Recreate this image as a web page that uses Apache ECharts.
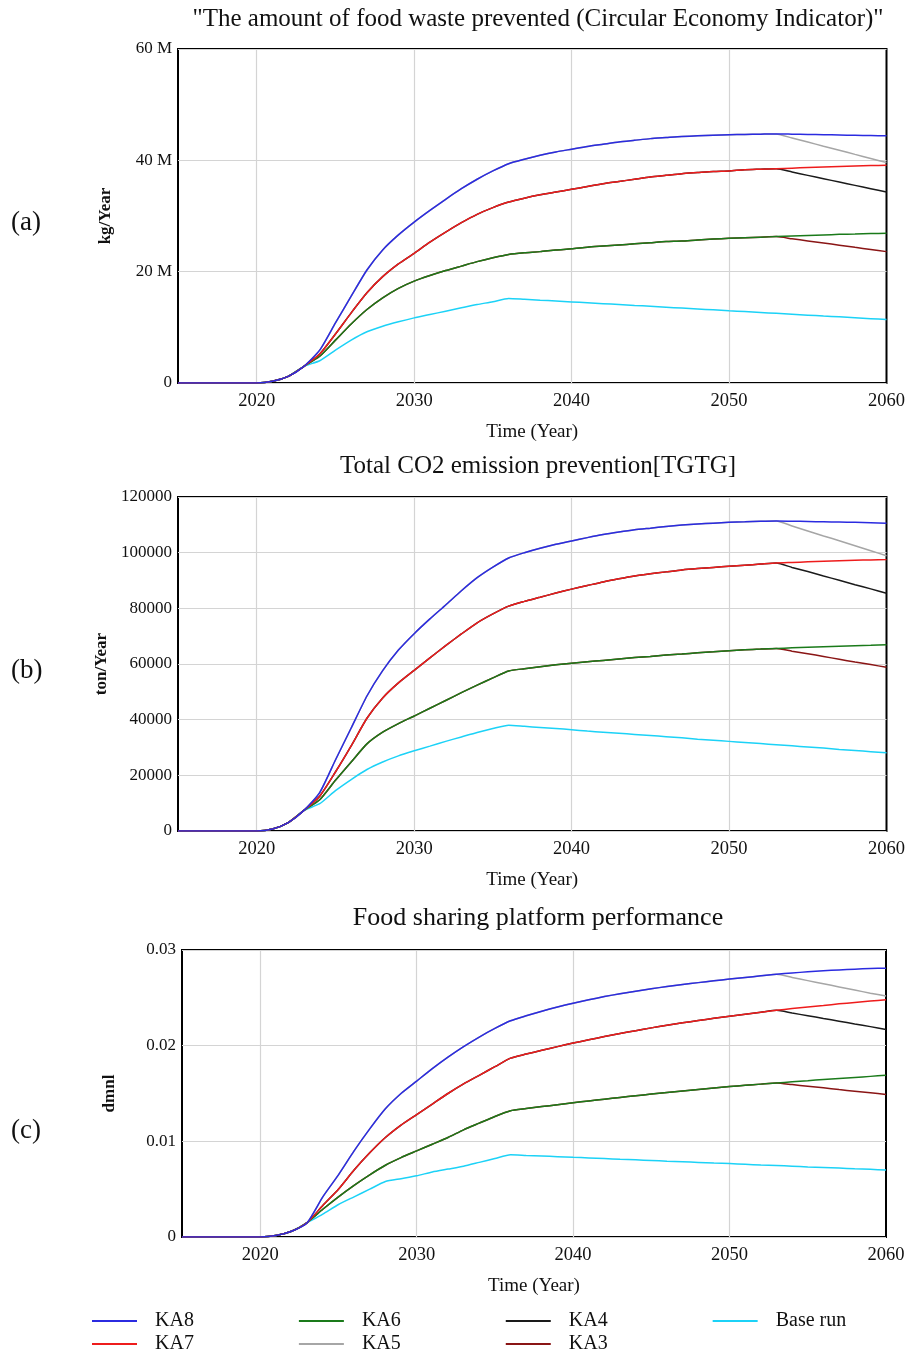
<!DOCTYPE html>
<html>
<head>
<meta charset="utf-8">
<script src="https://cdn.jsdelivr.net/npm/echarts@6/dist/echarts.min.js"></script>
<style>
html,body{margin:0;padding:0;background:#fff;}
#chart{width:908px;height:1356px;}
</style>
</head>
<body>
<div id="chart"></div>
<script>
// ---- categories (years) ----
const years = [2015,2016,2017,2018,2019,2020,2021,2022,2023,2024,2025,2026,2027,2028,2029,2030,
  2031,2032,2033,2034,2035,2036,2037,2038,2039,2040,2041,2042,2043,2044,2045,2046,2047,2048,2049,2050,
  2051,2052,2053,2054,2055,2056,2057,2058,2059,2060];

// ---- (a) food waste prevented, in millions kg/Year ----
const ka8A = [0,0,0,0,0,0,0.3,1.2,3.0,5.9,10.8,15.6,20.3,23.9,26.6,28.9,31.0,33.0,34.9,36.6,38.1,39.4,
  40.2,40.9,41.5,42.0,42.5,42.9,43.3,43.6,43.9,44.1,44.3,44.4,44.5,44.6,44.65,44.7,44.75,44.7,44.65,44.6,44.55,44.5,44.45,44.4];
const ka7A = [0,0,0,0,0,0,0.3,1.2,3.0,5.2,8.8,12.6,16.2,19.1,21.4,23.3,25.3,27.1,28.8,30.3,31.5,32.5,
  33.2,33.8,34.3,34.8,35.3,35.8,36.2,36.6,37.0,37.3,37.6,37.8,38.0,38.1,38.3,38.4,38.5,38.6,38.7,38.8,38.9,39.0,39.05,39.1];
const ka6A = [0,0,0,0,0,0,0.3,1.2,3.0,4.8,7.7,10.6,13.2,15.3,17.0,18.3,19.3,20.2,21.0,21.8,22.5,23.1,
  23.4,23.6,23.9,24.1,24.4,24.6,24.8,25.0,25.2,25.4,25.5,25.7,25.85,26.0,26.1,26.2,26.3,26.4,26.5,26.6,26.7,26.75,26.85,26.9];
const baseA = [0,0,0,0,0,0,0.3,1.2,3.0,4.0,5.9,7.7,9.2,10.2,11.0,11.7,12.3,12.9,13.5,14.1,14.6,15.2,
  15.04,14.88,14.73,14.57,14.41,14.25,14.09,13.93,13.78,13.62,13.46,13.3,13.14,12.98,12.83,12.67,12.51,12.35,12.19,12.03,11.88,11.72,11.56,11.4];
const ka5TailA = [44.01,43.28,42.54,41.81,41.07,40.34,39.6];   // 2054-2060
const ka4TailA = [37.9,37.3,36.7,36.1,35.5,34.9,34.3];
const ka3TailA = [25.91,25.53,25.14,24.76,24.37,23.99,23.6];

// ---- (b) CO2 emission prevention, ton/Year ----
const ka8B = [0,0,0,0,0,0,700,3000,7400,13800,25500,37000,48500,57600,65000,70900,76200,81200,86300,91000,94800,98100,
  100000,101600,103000,104200,105400,106500,107400,108200,108800,109400,109900,110300,110600,110900,111100,111300,111400,
  111300,111200,111100,111000,110900,110750,110600];
const ka7B = [0,0,0,0,0,0,700,3000,7400,12500,21200,30600,40500,47800,53200,57700,62200,66600,70800,74800,78000,80800,
  82500,84000,85500,86900,88200,89500,90600,91600,92400,93100,93800,94300,94700,95100,95500,95900,96300,
  96500,96700,96900,97100,97250,97400,97500];
const ka6B = [0,0,0,0,0,0,700,3000,7400,11200,18200,24800,31300,35500,38600,41300,44100,46900,49700,52400,55000,57500,
  58300,59000,59700,60300,60800,61300,61800,62300,62700,63200,63600,64000,64400,64800,65100,65350,65600,
  65800,66000,66200,66400,66550,66700,66900];
const baseB = [0,0,0,0,0,0,700,3000,7400,9800,14500,18500,22100,24800,27000,28800,30500,32200,33800,35400,36800,38000,
  37600,37200,36800,36400,35900,35500,35100,34700,34300,33900,33500,33000,32600,32200,31800,31400,31000,
  30600,30200,29800,29300,28900,28500,28100];
const ka5TailB = [109600,107800,106000,104300,102500,100700,98900];
const ka4TailB = [94700,93200,91600,90100,88500,87000,85400];
const ka3TailB = [64600,63700,62700,61700,60700,59800,58800];

// ---- (c) Food sharing platform performance, dmnl ----
const ka8C = [0,0,0,0,0,0,0.00015,0.0006,0.0015,0.0042,0.0065,0.0090,0.0113,0.0134,0.0150,0.0163,0.0176,0.0188,0.0199,0.0209,0.0218,0.0226,
  0.02312,0.0236,0.02404,0.02444,0.0248,0.02513,0.02543,0.0257,0.02595,0.02618,0.02639,0.02659,0.02678,0.02696,0.02713,0.0273,0.02746,
  0.0276,0.02772,0.02783,0.02792,0.028,0.02806,0.0281];
const ka7C = [0,0,0,0,0,0,0.00015,0.0006,0.0015,0.0033,0.0050,0.0070,0.0088,0.0104,0.0117,0.0128,0.0139,0.0150,0.0160,0.0169,0.0178,0.0187,
  0.01912,0.01952,0.0199,0.02027,0.02062,0.02095,0.02127,0.02157,0.02186,0.02213,0.02239,0.02263,0.02286,0.02308,0.02329,0.0235,0.0237,
  0.02388,0.02405,0.0242,0.02437,0.02452,0.02466,0.0248];
const ka6C = [0,0,0,0,0,0,0.00015,0.0006,0.0015,0.0029,0.0042,0.0054,0.0065,0.0075,0.0083,0.0090,0.0097,0.0104,0.0112,0.0119,0.0126,0.0132,
  0.01342,0.01363,0.01383,0.01403,0.01422,0.01441,0.01459,0.01477,0.01494,0.01511,0.01527,0.01543,0.01558,0.01573,0.01586,0.01598,0.0161,
  0.01622,0.01634,0.01646,0.01657,0.01668,0.01679,0.0169];
const baseC = [0,0,0,0,0,0,0.00015,0.0006,0.0015,0.0024,0.0034,0.0042,0.0050,0.0058,0.0061,0.0064,0.0068,0.0071,0.0074,0.0078,0.0082,0.0086,
  0.00853,0.00847,0.0084,0.00833,0.00827,0.0082,0.00813,0.00807,0.008,0.00793,0.00787,0.0078,0.00773,0.00767,0.0076,0.00753,0.00747,
  0.0074,0.00733,0.00727,0.0072,0.00713,0.00707,0.007];
const ka5TailC = [0.02713,0.0268,0.02647,0.02614,0.02581,0.02549,0.0252];
const ka4TailC = [0.02341,0.02313,0.02284,0.02256,0.02227,0.02199,0.0217];
const ka3TailC = [0.01593,0.01576,0.01559,0.01541,0.01524,0.01507,0.0149];

// ---- text ----
const titles = ['"The amount of food waste prevented (Circular Economy Indicator)"',
  'Total CO2 emission prevention[TGTG]', 'Food sharing platform performance'];
const yNames = ['kg/Year', 'ton/Year', 'dmnl'];
const xName = 'Time (Year)';
const panelLabels = ['(a)', '(b)', '(c)'];
const legendRow1 = ['KA8','KA6','KA4','Base run'];
const legendRow2 = ['KA7','KA5','KA3'];
const colors = {'KA8':'#2b2be0','KA7':'#ee1c1c','KA6':'#1a7a1a','KA5':'#a6a6a6','KA4':'#1a1a1a','KA3':'#8a1515','Base run':'#1cd2f7'};

// branch runs share the parent run up to 2053 (index 38)
function branch(parent, tail){ return parent.slice(0, 39).concat(tail); }

const panels = [
  {KA8:ka8A, KA7:ka7A, KA6:ka6A, 'Base run':baseA, KA5:branch(ka8A,ka5TailA), KA4:branch(ka7A,ka4TailA), KA3:branch(ka6A,ka3TailA)},
  {KA8:ka8B, KA7:ka7B, KA6:ka6B, 'Base run':baseB, KA5:branch(ka8B,ka5TailB), KA4:branch(ka7B,ka4TailB), KA3:branch(ka6B,ka3TailB)},
  {KA8:ka8C, KA7:ka7C, KA6:ka6C, 'Base run':baseC, KA5:branch(ka8C,ka5TailC), KA4:branch(ka7C,ka4TailC), KA3:branch(ka6C,ka3TailC)}
];

const FONT = '"Liberation Serif", "Times New Roman", serif';
const grids = [
  {left:178, top:49, width:709, height:334},
  {left:178, top:497, width:709, height:334},
  {left:182, top:950, width:704, height:287}
];
const yCfg = [
  {max:60, interval:20, fmt: v => v === 0 ? '0' : v + ' M'},
  {max:120000, interval:20000, fmt: v => String(v)},
  {max:0.03, interval:0.01, fmt: v => v === 0 ? '0' : v.toFixed(2)}
];
const titleTops = [2, 449, 900];
const titleSizes = [25, 25, 26];
const labelTops = [209, 657, 1117];

const legendCommon = {
  orient:'horizontal', left:92, padding:0, itemWidth:45, itemHeight:2, itemGap:105, icon:'rect',
  textStyle:{fontFamily:FONT, fontSize:20, color:'#111', padding:[0,0,0,13]}
};

const option = {
  backgroundColor:'#fff',
  animation:false,
  title: titles.map((t,i) => ({
    text:t, left:533, top:titleTops[i], textAlign:'center',
    textStyle:{fontFamily:FONT, fontSize:titleSizes[i], fontWeight:'normal', color:'#111'}
  })),
  grid: grids.map(g => Object.assign({show:true, borderColor:'#000', borderWidth:2, backgroundColor:'#fff'}, g)),
  xAxis: grids.map((g,i) => ({
    type:'category', gridIndex:i, data:years, boundaryGap:false,
    name:xName, nameLocation:'middle', nameGap:40,
    nameTextStyle:{fontFamily:FONT, fontSize:19, color:'#111'},
    axisLine:{show:false}, axisTick:{show:false},
    axisLabel:{fontFamily:FONT, fontSize:18.5, color:'#111', margin:9,
      interval:(idx, val) => Number(val) % 10 === 0},
    splitLine:{show:true, interval:(idx, val) => Number(val) % 10 === 0 && Number(val) !== 2060, lineStyle:{color:'#d4d4d4', width:1.2}}
  })),
  yAxis: grids.map((g,i) => ({
    type:'value', gridIndex:i, min:0, max:yCfg[i].max, interval:yCfg[i].interval,
    name:yNames[i], nameLocation:'middle', nameGap:64,
    nameTextStyle:{fontFamily:FONT, fontSize:17, fontWeight:'bold', color:'#111'},
    axisLine:{show:false}, axisTick:{show:false},
    axisLabel:{fontFamily:FONT, fontSize:17, color:'#111', margin:6, formatter:yCfg[i].fmt},
    splitLine:{show:true, lineStyle:{color:'#d4d4d4', width:1.2}}
  })),
  legend: [
    Object.assign({}, legendCommon, {data:legendRow1, top:1311}),
    Object.assign({}, legendCommon, {data:legendRow2, top:1334})
  ],
  graphic: panelLabels.map((t,i) => ({
    type:'text', left:11, top:labelTops[i],
    style:{text:t, font:'27px ' + FONT, fill:'#111'}
  })),
  series: []
};

// draw branch runs first so the parent runs sit on top where they coincide
const drawOrder = ['KA5','KA4','KA3','Base run','KA6','KA7','KA8'];
panels.forEach((p, i) => {
  drawOrder.forEach(name => {
    option.series.push({
      name:name, type:'line', xAxisIndex:i, yAxisIndex:i, data:p[name],
      showSymbol:false, symbol:'none', smooth:0.2,
      lineStyle:{color:colors[name], width:1.5}, itemStyle:{color:colors[name]}
    });
  });
});

const chart = echarts.init(document.getElementById('chart'), null, {renderer:'canvas'});
chart.setOption(option);
</script>
</body>
</html>
